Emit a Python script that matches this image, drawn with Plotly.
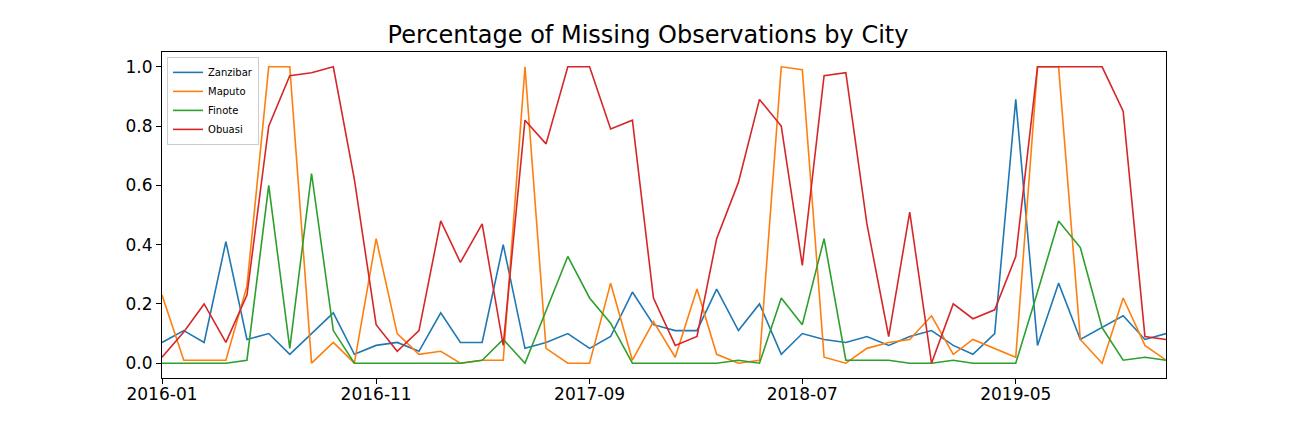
import pandas as pd
import plotly.graph_objects as go

# monthly observations, 2016-01 .. 2019-12
months = pd.date_range("2016-01-01", "2019-12-01", freq="MS")

zanzibar = [0.07, 0.11, 0.07, 0.41, 0.08, 0.10, 0.03, 0.10, 0.17, 0.03, 0.06, 0.07,
            0.04, 0.17, 0.07, 0.07, 0.40, 0.05, 0.07, 0.10, 0.05, 0.09, 0.24, 0.13,
            0.11, 0.11, 0.25, 0.11, 0.20, 0.03, 0.10, 0.08, 0.07, 0.09, 0.06, 0.09,
            0.11, 0.06, 0.03, 0.10, 0.89, 0.06, 0.27, 0.08, 0.12, 0.16, 0.08, 0.10]
maputo = [0.23, 0.01, 0.01, 0.01, 0.26, 1.00, 1.00, 0.00, 0.07, 0.00, 0.42, 0.10,
          0.03, 0.04, 0.00, 0.01, 0.01, 1.00, 0.05, 0.00, 0.00, 0.27, 0.01, 0.14,
          0.02, 0.25, 0.03, 0.00, 0.01, 1.00, 0.99, 0.02, 0.00, 0.05, 0.07, 0.08,
          0.16, 0.03, 0.08, 0.05, 0.02, 1.00, 1.00, 0.08, 0.00, 0.22, 0.06, 0.01]
finote = [0.00, 0.00, 0.00, 0.00, 0.01, 0.60, 0.05, 0.64, 0.11, 0.00, 0.00, 0.00,
          0.00, 0.00, 0.00, 0.01, 0.08, 0.00, 0.18, 0.36, 0.22, 0.135, 0.00, 0.00,
          0.00, 0.00, 0.00, 0.01, 0.00, 0.22, 0.13, 0.42, 0.01, 0.01, 0.01, 0.00,
          0.00, 0.01, 0.00, 0.00, 0.00, 0.24, 0.48, 0.39, 0.12, 0.01, 0.02, 0.01]
obuasi = [0.02, 0.105, 0.20, 0.07, 0.23, 0.80, 0.97, 0.98, 1.00, 0.62, 0.13, 0.04,
          0.11, 0.48, 0.34, 0.47, 0.06, 0.82, 0.74, 1.00, 1.00, 0.79, 0.82, 0.22,
          0.06, 0.09, 0.42, 0.61, 0.89, 0.80, 0.33, 0.97, 0.98, 0.47, 0.09, 0.51,
          0.00, 0.20, 0.15, 0.18, 0.36, 1.00, 1.00, 1.00, 1.00, 0.85, 0.09, 0.08]

cities = ["Zanzibar", "Maputo", "Finote", "Obuasi"]
series = [zanzibar, maputo, finote, obuasi]
colors = ["#1f77b4", "#ff7f0e", "#2ca02c", "#d62728"]

x_ticks = ["2016-01-01", "2016-11-01", "2017-09-01", "2018-07-01", "2019-05-01"]
x_tick_labels = ["2016-01", "2016-11", "2017-09", "2018-07", "2019-05"]
y_ticks = [0.0, 0.2, 0.4, 0.6, 0.8, 1.0]

fig = go.Figure()
for name, vals, c in zip(cities, series, colors):
    fig.add_trace(go.Scatter(x=months, y=vals, mode="lines", name=name,
                             line=dict(color=c, width=1.6)))

fig.update_layout(
    width=1296, height=432,
    margin=dict(l=162, r=130, t=52, b=54),
    paper_bgcolor="white", plot_bgcolor="white",
    font=dict(family="DejaVu Sans", color="black"),
    title=dict(text="Percentage of Missing Observations by City",
               x=0.5, xanchor="center", y=1 - 35 / 432, yanchor="middle",
               font=dict(size=24)),
    legend=dict(x=0.005, y=0.985, xanchor="left", yanchor="top",
                bgcolor="rgba(255,255,255,0.8)", bordercolor="#cccccc",
                borderwidth=1, font=dict(size=10), itemwidth=30),
    showlegend=True,
)
fig.update_xaxes(range=[months[0], months[-1]], tickvals=x_ticks, ticktext=x_tick_labels,
                 showgrid=False, zeroline=False, showline=True, linecolor="black",
                 linewidth=1, mirror=True, ticks="outside", ticklen=5,
                 tickcolor="black", tickfont=dict(size=17), ticklabelstandoff=-4)
fig.update_yaxes(range=[-0.05, 1.05], tickvals=y_ticks, tickformat=".1f",
                 showgrid=False, zeroline=False, showline=True, linecolor="black",
                 linewidth=1, mirror=True, ticks="outside", ticklen=5,
                 tickcolor="black", tickfont=dict(size=17))

# drop the default page margin so the figure fills the window
fig.write_html("out.html", config={"displayModeBar": False},
               post_script="document.body.style.margin='0';")
